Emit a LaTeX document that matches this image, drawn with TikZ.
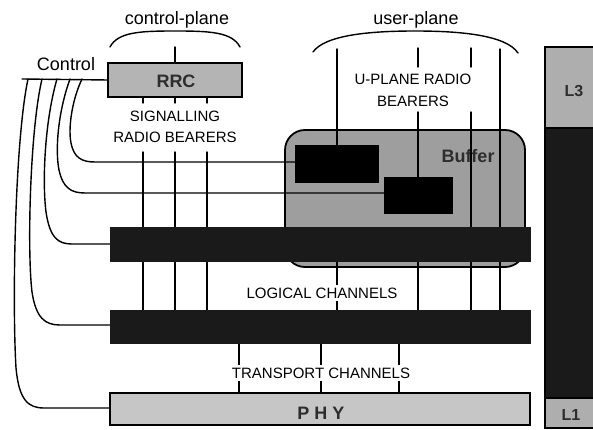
\documentclass[tikz,border=0pt]{standalone}
\usepackage{fontspec}
\setmainfont{Liberation Sans}
\usetikzlibrary{calc}
\pgfdeclarelayer{bglow}
\pgfdeclarelayer{bg}
\pgfsetlayers{bglow,bg,main}
\definecolor{bargray}{RGB}{26,26,26}
\definecolor{bufgray}{RGB}{158,158,158}
\definecolor{rrcgray}{RGB}{180,180,180}
\definecolor{phygray}{RGB}{198,198,198}
\definecolor{lgray}{RGB}{174,174,174}
\definecolor{txtgray}{RGB}{45,45,45}
\begin{document}
\begin{tikzpicture}[x=1pt,y=-1pt,
  ln/.style={line width=1.4pt, line cap=round},
  lab/.style={font=\fontsize{15}{15}\selectfont, inner sep=0pt},
  wlab/.style={font=\fontsize{15}{15}\selectfont, inner sep=2.5pt, fill=white},
  biglab/.style={font=\fontsize{18}{18}\selectfont, inner sep=0pt},
  boxlab/.style={font=\bfseries\fontsize{18}{18}\selectfont, text=txtgray, inner sep=0pt},
  barbox/.style={fill=bargray, draw=bargray, minimum width=420pt, inner sep=0pt, outer sep=0pt},
  blackbox/.style={fill=black, draw=black, inner sep=0pt, outer sep=0pt},
  greybox/.style={draw=black, line width=1.5pt, inner sep=0pt, outer sep=0pt}
]
\useasboundingbox (0,0) rectangle (593,430);

% ---------- buffer (lowest layer)
\begin{pgfonlayer}{bglow}
\node[fill=bufgray, draw=black, line width=1.8pt, rounded corners=20pt,
      minimum width=240pt, minimum height=137pt, inner sep=0pt] (buffer) at (405,198.5) {};
\node[boxlab, anchor=base] (buftxt) at (468,163) {Buffer};
\end{pgfonlayer}

% ---------- boxes and bars
\node[greybox, fill=rrcgray, minimum width=134pt, minimum height=34pt] (rrc) at (175,80) {};
\node[boxlab, anchor=base] (rrctxt) at (176,88) {RRC};
\node[barbox, minimum height=34pt] (rlc) at (320,244) {};
\node[barbox, minimum height=33pt] (mac) at (320,326.5) {};
\node[greybox, fill=phygray, minimum width=420pt, minimum height=32pt] (phy) at (320,409) {};
\node[boxlab, anchor=base] (phytxt) at (321,419) {P H Y};
\node[blackbox, minimum width=83pt, minimum height=37pt] (box1) at (336.5,163.5) {};
\node[blackbox, minimum width=68pt, minimum height=36pt] (box2) at (418,195) {};

% ---------- right-hand layer bar
\node[greybox, fill=lgray, minimum width=50pt, minimum height=81pt, anchor=north west] (l3) at (545,47) {};
\node[blackbox, fill=bargray, draw=black, line width=1.5pt, minimum width=50pt, minimum height=270pt, anchor=north west] (l2) at (545,128) {};
\node[greybox, fill=lgray, minimum width=50pt, minimum height=30pt, anchor=north west] (l1) at (545,398) {};
\node[boxlab, font=\bfseries\fontsize{16}{16}\selectfont, anchor=base] (l3txt) at (574,97) {L3};
\node[boxlab, font=\bfseries\fontsize{16}{16}\selectfont, anchor=base] (l1txt) at (571,420) {L1};

% ---------- labels
\node[biglab, anchor=base] (cplane) at (177,25) {control-plane};
\node[biglab, anchor=base] (uplane) at (416,25) {user-plane};
\node[biglab, anchor=base] (ctrl) at (66,71) {Control};
\node[lab, anchor=base] (sig1) at (175,122) {SIGNALLING};
\node[lab, anchor=base] (sig2) at (175,143) {RADIO BEARERS};
\node[lab, anchor=base] (up1) at (413,85) {U-PLANE RADIO};
\node[lab, anchor=base] (up2) at (413,107) {BEARERS};
\node[wlab, anchor=base] (logch) at (322,298) {LOGICAL CHANNELS};
\node[wlab, anchor=base] (trch) at (321,378) {TRANSPORT CHANNELS};

% ---------- connectors
\begin{pgfonlayer}{bg}
% braces
\draw[ln] (110,47) .. controls (118,32) and (140,31) .. (175,31) .. controls (210,31) and (232,32) .. (240,47);
\draw[ln] (313,52) .. controls (325,35) and (370,31) .. (415,31) .. controls (460,31) and (506,35) .. (518,53);
% control plane
\coordinate (cp) at (175,47);
\draw[ln] (cp) -- (rrc.north);
\foreach \x in {143,175,207}{
  \draw[ln] (\x,97) -- (\x,103);
  \draw[ln] (\x,152) -- (\x,310);
}
% user plane
\coordinate (ua) at (337,49);
\coordinate (ub) at (418,48);
\coordinate (uc) at (471,48);
\coordinate (ud) at (500,49);
\draw[ln] (ua) -- (ua |- box1.north);
\draw[ln] (ub) -- (418,67);
\draw[ln] (418,112) -- (box2.north);
\draw[ln] (uc) -- (471,67);
\draw[ln] (471,112) -- (uc |- mac.north);
\draw[ln] (ud) -- (ud |- mac.north);
\draw[ln] (ua |- rlc.south) -- (ua |- mac.north);
\draw[ln] (ub |- rlc.south) -- (ub |- mac.north);
% transport
\foreach \x in {239,321,399}{
  \draw[ln] (\x,343) -- (\x,393);
}
% control lines
\coordinate (c0) at (22,79);
\draw[ln] (c0) -- (rrc.west);
\draw[ln] (82,79) .. controls (72,100) and (68,128) .. (71,143) .. controls (74,158) and (82,162) .. (95,162) -- (box1.west |- 0,162);
\draw[ln] (70,79) .. controls (58,112) and (55,150) .. (59,170) .. controls (63,188) and (71,193) .. (85,193) -- (box2.west |- 0,193);
\draw[ln] (57,79) .. controls (45,120) and (42,180) .. (46,212) .. controls (50,238) and (58,244) .. (72,244) -- (rlc.west);
\draw[ln] (42,79) .. controls (30,130) and (27,250) .. (32,292) .. controls (36,318) and (45,325) .. (60,325) -- (mac.west |- 0,325);
\draw[ln] (28,79) .. controls (15,140) and (12,300) .. (16,368) .. controls (19,400) and (28,408) .. (44,408) -- (phy.west |- 0,408);
\end{pgfonlayer}
\end{tikzpicture}
\end{document}
